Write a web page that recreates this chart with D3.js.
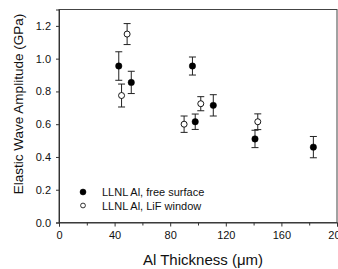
<!DOCTYPE html>
<html>
<head>
<meta charset="utf-8">
<script src="https://cdn.jsdelivr.net/npm/d3@7"></script>
<style>
  body { margin: 0; background: #fff; }
  text { font-family: "Liberation Sans", Arial, sans-serif; }
</style>
</head>
<body>
<div class="plot"></div>
<script>

// LLNL Al, free surface
const freeX = [43, 52, 96, 98, 111, 141, 183];
const freeY = [0.955, 0.855, 0.955, 0.615, 0.715, 0.51, 0.46];
const freeErr = [0.087, 0.068, 0.055, 0.047, 0.065, 0.053, 0.065];

// LLNL Al, LiF window
const lifX = [45, 49, 90, 102, 143];
const lifY = [0.775, 1.15, 0.60, 0.725, 0.615];
const lifErr = [0.07, 0.064, 0.05, 0.043, 0.048];

const xTicks = [0, 40, 80, 120, 160, 200];
const xMinor = [20, 60, 100, 140, 180];
const yTicks = [0.0, 0.2, 0.4, 0.6, 0.8, 1.0, 1.2];

const width = 338;
const height = 269;
const plotLeft = 59, plotRight = 337, plotTop = 9.5, plotBottom = 222.5;

const svg = d3.select('.plot')
    .append('svg')
    .attr('width', width)
    .attr('height', height);

const x = d3.scaleLinear().domain([0, 200]).range([plotLeft, plotRight]);
const y = d3.scaleLinear().domain([0, 1.3]).range([plotBottom, plotTop]);

// frame
svg.append('rect')
    .attr('x', plotLeft).attr('y', plotTop)
    .attr('width', plotRight - plotLeft).attr('height', plotBottom - plotTop)
    .attr('fill', 'none')
    .attr('stroke', '#444')
    .attr('stroke-width', 1);

// x axis
svg.append('g')
    .attr('transform', `translate(0,${plotBottom})`)
    .call(d3.axisBottom(x).tickValues(xTicks).tickFormat(d3.format('d')).tickSize(4).tickPadding(5));
svg.append('g')
    .attr('transform', `translate(0,${plotBottom})`)
    .call(d3.axisBottom(x).tickValues(xMinor).tickFormat('').tickSize(3))
    .call(g => g.select('.domain').remove());

// y axis
svg.append('g')
    .attr('transform', `translate(${plotLeft},0)`)
    .call(d3.axisLeft(y).tickValues(yTicks).tickFormat(d3.format('.1f')).tickSize(3).tickPadding(5));

svg.selectAll('.tick text')
    .attr('font-size', 11)
    .attr('fill', '#111');
svg.selectAll('.domain, .tick line').attr('stroke', '#333');

// axis titles
svg.append('text')
    .attr('x', 203)
    .attr('y', 265)
    .attr('text-anchor', 'middle')
    .attr('font-size', 15)
    .attr('fill', '#111')
    .text('Al Thickness (\u03bcm)');

svg.append('text')
    .attr('transform', 'translate(23,104) rotate(-90)')
    .attr('text-anchor', 'middle')
    .attr('font-size', 13.5)
    .attr('fill', '#111')
    .text('Elastic Wave Amplitude (GPa)');

function drawSeries(xs, ys, errs, filled) {
    const data = xs.map((d, i) => ({x: d, y: ys[i], e: errs[i]}));
    const g = svg.append('g');
    const bars = g.selectAll('g.err')
        .data(data)
        .enter()
        .append('g')
        .attr('stroke', '#222')
        .attr('stroke-width', 1);
    bars.append('line')
        .attr('x1', d => x(d.x)).attr('x2', d => x(d.x))
        .attr('y1', d => y(d.y - d.e)).attr('y2', d => y(d.y + d.e));
    bars.append('line')
        .attr('x1', d => x(d.x) - 3.5).attr('x2', d => x(d.x) + 3.5)
        .attr('y1', d => y(d.y + d.e)).attr('y2', d => y(d.y + d.e));
    bars.append('line')
        .attr('x1', d => x(d.x) - 3.5).attr('x2', d => x(d.x) + 3.5)
        .attr('y1', d => y(d.y - d.e)).attr('y2', d => y(d.y - d.e));
    g.selectAll('circle')
        .data(data)
        .enter()
        .append('circle')
        .attr('cx', d => x(d.x))
        .attr('cy', d => y(d.y))
        .attr('r', filled ? 3.2 : 3)
        .attr('fill', filled ? '#000' : '#fff')
        .attr('stroke', '#000')
        .attr('stroke-width', filled ? 0.5 : 0.9);
}

drawSeries(lifX, lifY, lifErr, false);
drawSeries(freeX, freeY, freeErr, true);

// legend
const legend = [
    {label: 'LLNL Al, free surface', filled: true},
    {label: 'LLNL Al, LiF window', filled: false}
];
const lg = svg.selectAll('.legend')
    .data(legend)
    .enter()
    .append('g')
    .attr('transform', (d, i) => `translate(83,${192 + i * 13.5})`);
lg.append('circle')
    .attr('r', (d) => d.filled ? 3 : 2.4)
    .attr('fill', d => d.filled ? '#000' : '#fff')
    .attr('stroke', '#000')
    .attr('stroke-width', d => d.filled ? 0.5 : 0.8);
lg.append('text')
    .attr('x', 19)
    .attr('y', 4)
    .attr('font-size', 11)
    .attr('fill', '#111')
    .text(d => d.label);

</script>
</body>
</html>
